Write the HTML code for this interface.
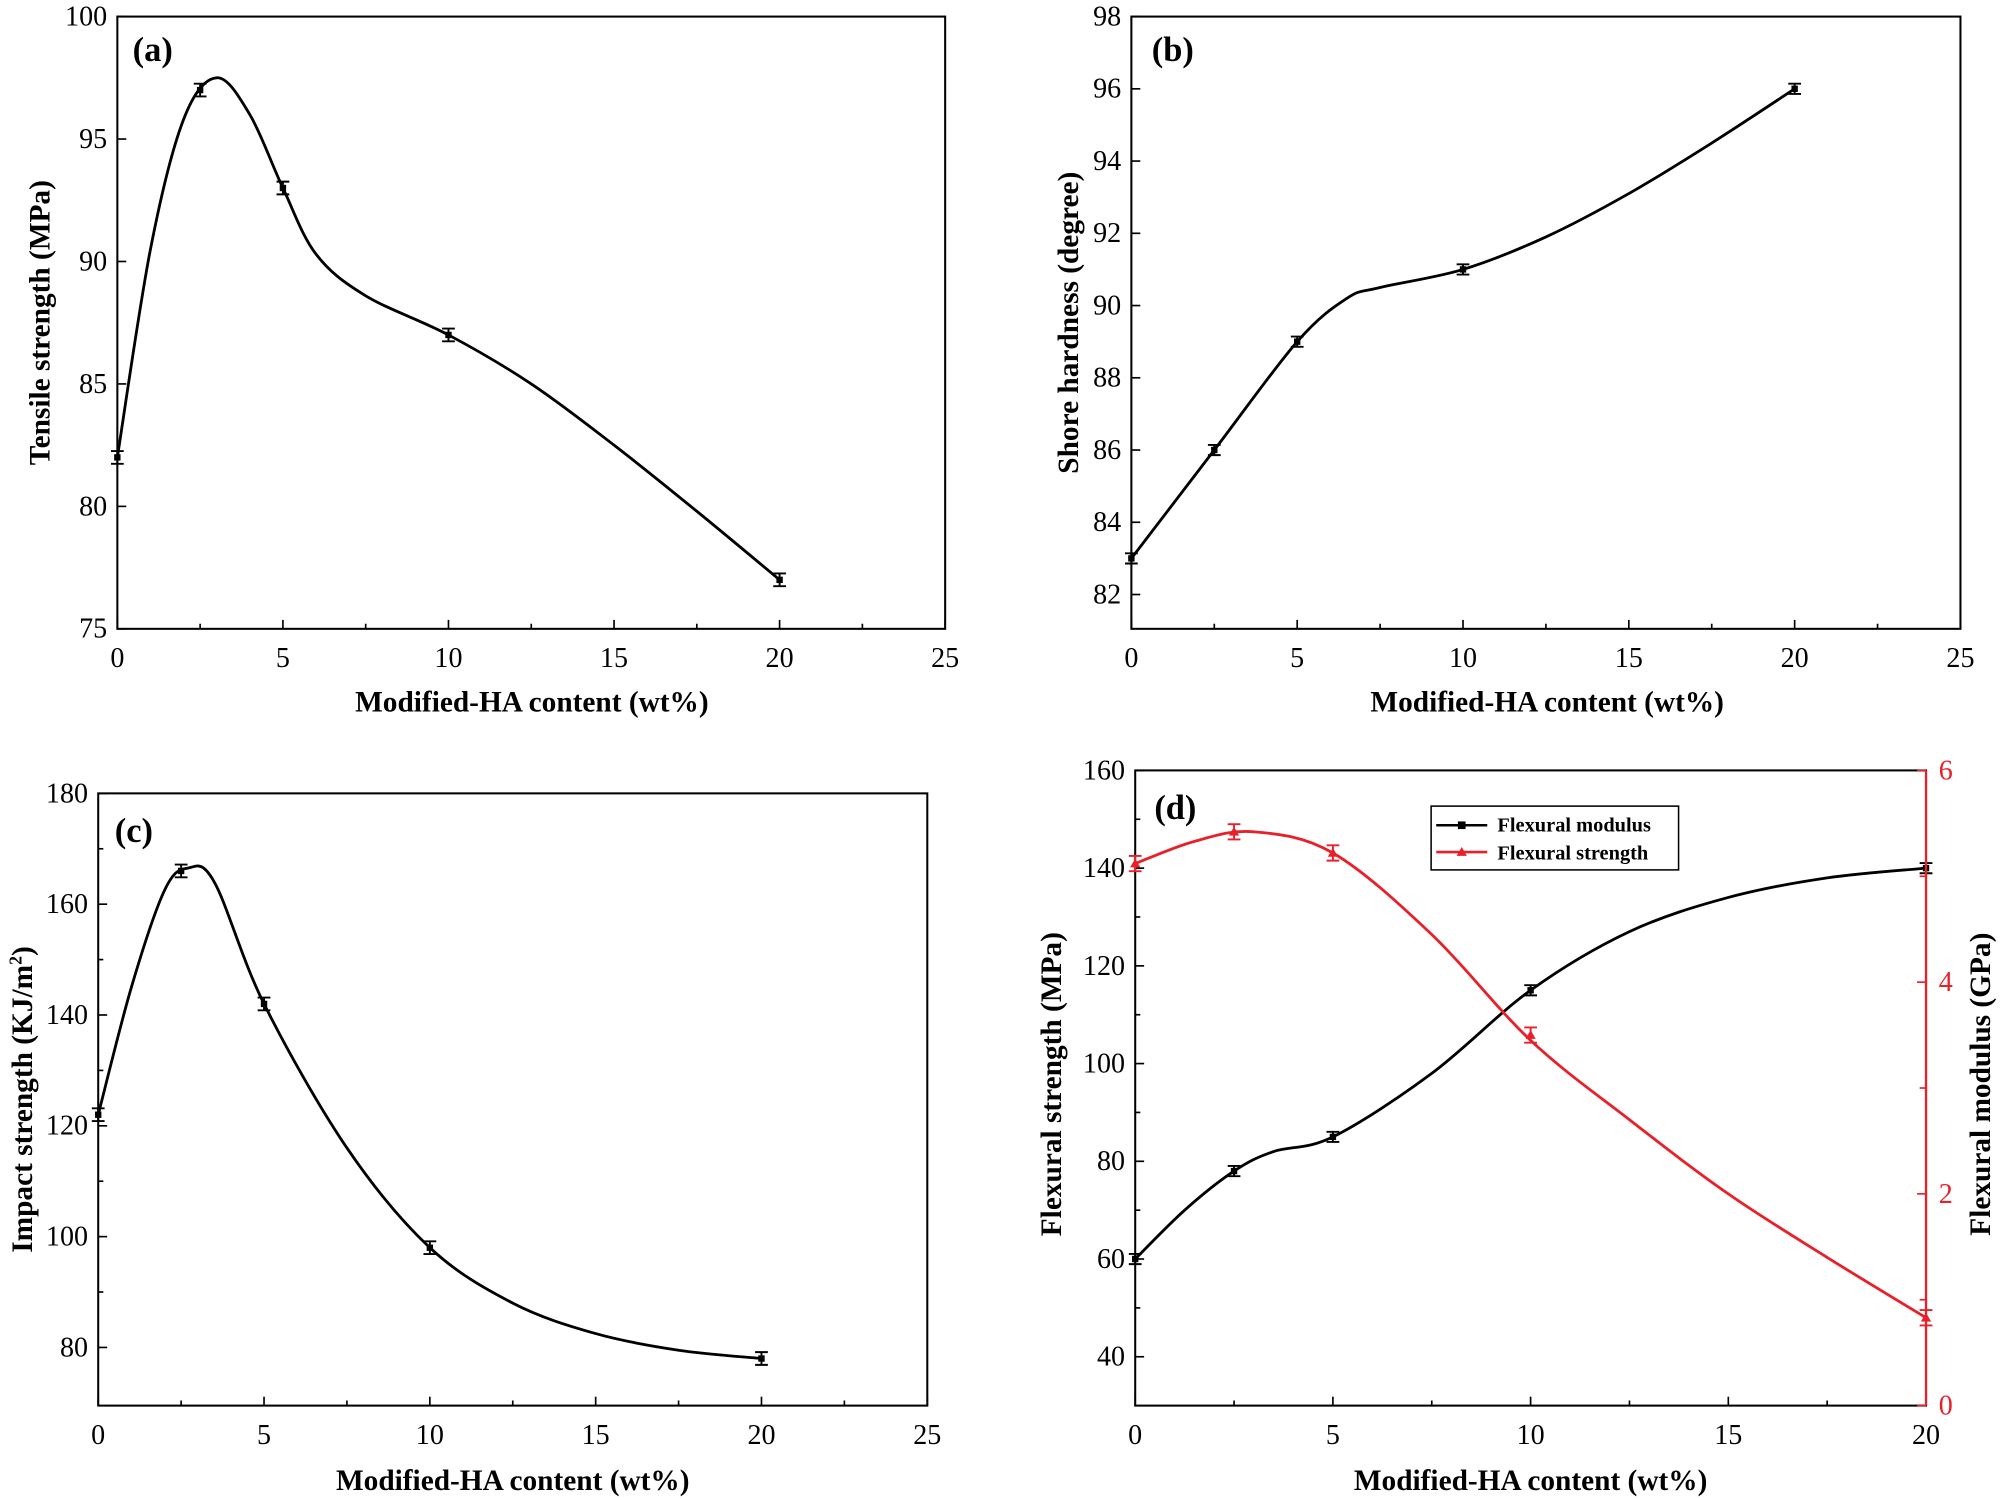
<!DOCTYPE html>
<html><head><meta charset="utf-8"><style>
html,body{margin:0;padding:0;background:#fff}
svg{display:block}
text{font-family:"Liberation Serif",serif}
.t{font-size:22px}
.b{font-weight:bold;font-size:23px}
.p{font-weight:bold;font-size:27px}
</style></head><body>
<svg id="s" width="2000" height="1500" viewBox="0 0 1568 1176" xmlns="http://www.w3.org/2000/svg">
<rect width="1568" height="1176" fill="#fff"/>
<text class="p" x="104" y="48">(a)</text>
<text class="p" x="903" y="48">(b)</text>
<text class="p" x="90" y="660">(c)</text>
<text class="p" x="905" y="642">(d)</text>
<text class="b" x="417" y="558" text-anchor="middle">Modified-HA content (wt%)</text>
<text class="b" x="1213" y="558" text-anchor="middle">Modified-HA content (wt%)</text>
<text class="b" x="402" y="1168" text-anchor="middle">Modified-HA content (wt%)</text>
<text class="b" x="1200" y="1168" text-anchor="middle">Modified-HA content (wt%)</text>
<text class="b" transform="translate(39,253) rotate(-90)" text-anchor="middle">Tensile strength (MPa)</text>
<text class="b" transform="translate(845,253) rotate(-90)" text-anchor="middle">Shore hardness (degree)</text>
<text class="b" transform="translate(25,862) rotate(-90)" text-anchor="middle">Impact strength (KJ/m<tspan font-size="14" dy="-8">2</tspan><tspan dy="8">)</tspan></text>
<text class="b" transform="translate(832,850) rotate(-90)" text-anchor="middle">Flexural strength (MPa)</text>
<text class="b" transform="translate(1560,850) rotate(-90)" text-anchor="middle">Flexural modulus (GPa)</text>
<g id="legend">
<rect x="1122" y="632" width="194" height="50" fill="#fff" stroke="#000" stroke-width="1.2"/>
<line x1="1126" y1="647" x2="1166" y2="647" stroke="#000" stroke-width="2"/>
<rect x="1143" y="644" width="6" height="6" fill="#000"/>
<text x="1174" y="652" font-weight="bold" font-size="16">Flexural modulus</text>
<line x1="1126" y1="668" x2="1166" y2="668" stroke="#e8202a" stroke-width="2"/>
<path d="M1146 664 L1150 671 L1142 671Z" fill="#e8202a"/>
<text x="1174" y="674" font-weight="bold" font-size="16">Flexural strength</text>
</g>
</svg>
<script>
const S=document.getElementById('s'),NS='http://www.w3.org/2000/svg';
function el(t,a,txt){const e=document.createElementNS(NS,t);for(const k in a)e.setAttribute(k,a[k]);if(txt!==undefined)e.textContent=txt;S.appendChild(e);return e;}
function spline(pts){let d='M'+pts[0][0]+' '+pts[0][1];for(let i=0;i<pts.length-1;i++){const p0=pts[i-1]||pts[i],p1=pts[i],p2=pts[i+1],p3=pts[i+2]||p2;const c1=[p1[0]+(p2[0]-p0[0])/6,p1[1]+(p2[1]-p0[1])/6],c2=[p2[0]-(p3[0]-p1[0])/6,p2[1]-(p3[1]-p1[1])/6];d+=` C${c1[0]} ${c1[1]} ${c2[0]} ${c2[1]} ${p2[0]} ${p2[1]}`;}return d;}
function panel(o){
 const X=v=>o.x0+(v-o.xmin)/(o.xmax-o.xmin)*(o.x1-o.x0);
 const Y=v=>o.y1-(v-o.ymin)/(o.ymax-o.ymin)*(o.y1-o.y0);
 if(!o.noaxes){
 el('rect',{x:o.x0,y:o.y0,width:o.x1-o.x0,height:o.y1-o.y0,fill:'none',stroke:'#000','stroke-width':1.6});
 for(let v=o.xmin;v<=o.xmax+1e-9;v+=o.xs/2){const maj=Math.abs(v/o.xs-Math.round(v/o.xs))<1e-6;const x=X(v);el('line',{x1:x,x2:x,y1:o.y1,y2:o.y1-(maj?7:4),stroke:'#000','stroke-width':1.3});if(maj)el('text',{x:x,y:o.y1+30,'text-anchor':'middle',class:'t'},String(v));}
 o.yt.forEach(v=>{const y=Y(v);el('line',{x1:o.x0,x2:o.x0+7,y1:y,y2:y,stroke:'#000','stroke-width':1.3});el('text',{x:o.x0-8,y:y+7,'text-anchor':'end',class:'t'},String(v));});
 (o.ym||[]).forEach(v=>{const y=Y(v);el('line',{x1:o.x0,x2:o.x0+4,y1:y,y2:y,stroke:'#000','stroke-width':1.3});});
 }
 o.series.forEach(s=>{const Ys=s.Y||Y;const cp=s.c2.map(p=>[X(p[0]),Ys(p[1])]);
  el('path',{d:spline(cp),fill:'none',stroke:s.c||'#000','stroke-width':2.2});
  s.d.map(p=>[X(p[0]),Ys(p[1])]).forEach(p=>{const e=s.e;const yt=p[1]-e,yb=p[1]+e;el('path',{d:`M${p[0]-5} ${yt}H${p[0]+5}M${p[0]} ${yt}V${yb}M${p[0]-5} ${yb}H${p[0]+5}`,stroke:s.c||'#000','stroke-width':1.5,fill:'none'});
   if(s.tri)el('path',{d:`M${p[0]} ${p[1]-4}L${p[0]+4} ${p[1]+3}L${p[0]-4} ${p[1]+3}Z`,fill:s.c});else el('rect',{x:p[0]-2.5,y:p[1]-2.5,width:5,height:5,fill:'#000'});});});
}
panel({x0:92,x1:741,y0:13,y1:493,xmin:0,xmax:25,xs:5,ymin:75,ymax:100,yt:[75,80,85,90,95,100],
 series:[{d:[[0,82],[2.5,97],[5,93],[10,87],[20,77]],c2:[[0,82],[1,90.5],[2,95.8],[3,97.5],[4,96],[5,93],[6,90.3],[7.5,88.6],[10,87],[12.5,85],[15,82.5],[17.5,79.8],[20,77]],e:5}]});
panel({x0:887,x1:1537,y0:13,y1:493,xmin:0,xmax:25,xs:5,ymin:81.05,ymax:98,yt:[82,84,86,88,90,92,94,96,98],
 series:[{d:[[0,83],[2.5,86],[5,89],[10,91],[20,96]],c2:[[0,83],[2.5,86],[5,89],[6.5,90.2],[7.5,90.5],[10,91],[12.5,91.9],[15,93.1],[17.5,94.5],[20,96]],e:4}]});
panel({x0:77,x1:727,y0:622,y1:1102,xmin:0,xmax:25,xs:5,ymin:69.5,ymax:180,yt:[80,100,120,140,160,180],ym:[90,110,130,150,170],
 series:[{d:[[0,122],[2.5,166],[5,142],[10,98],[20,78]],c2:[[0,122],[1,145],[2,162.5],[2.7,166.5],[3.5,164],[5,142],[7.5,116],[10,98],[12.5,88],[15,82.5],[17.5,79.5],[20,78]],e:5}]});
panel({x0:890,x1:1510,y0:604,y1:1102,xmin:0,xmax:20,xs:5,ymin:30,ymax:160,yt:[40,60,80,100,120,140,160],ym:[50,70,90,110,130,150],
 series:[{d:[[0,60],[2.5,78],[5,85],[10,115],[20,140]],c2:[[0,60],[1.25,70],[2.5,78],[3.5,82],[5,85],[7.5,98],[10,115],[12.5,127],[15,134],[17.5,138],[20,140]],e:4}]});
const RY=v=>1102-v/6*498;
el('line',{x1:1510,x2:1510,y1:604,y2:1102,stroke:'#e8202a','stroke-width':1.8});
[0,2,4,6].forEach(v=>{const y=RY(v);el('line',{x1:1510,x2:1503,y1:y,y2:y,stroke:'#e8202a','stroke-width':1.3});el('text',{x:1520,y:y+7,class:'t',fill:'#e8202a'},String(v));});
[1,3,5].forEach(v=>{const y=RY(v);el('line',{x1:1510,x2:1505,y1:y,y2:y,stroke:'#e8202a','stroke-width':1.3});});
panel({noaxes:true,x0:890,x1:1510,y0:604,y1:1102,xmin:0,xmax:20,xs:5,ymin:30,ymax:160,yt:[],
 series:[{d:[[0,5.12],[2.5,5.42],[5,5.22],[10,3.5],[20,0.83]],c2:[[0,5.12],[1.5,5.33],[3,5.42],[5,5.22],[7.5,4.45],[10,3.45],[12.5,2.7],[15,2.0],[17.5,1.4],[20,0.83]],Y:RY,e:6,c:'#e8202a',tri:true}]});
</script>
</body></html>
